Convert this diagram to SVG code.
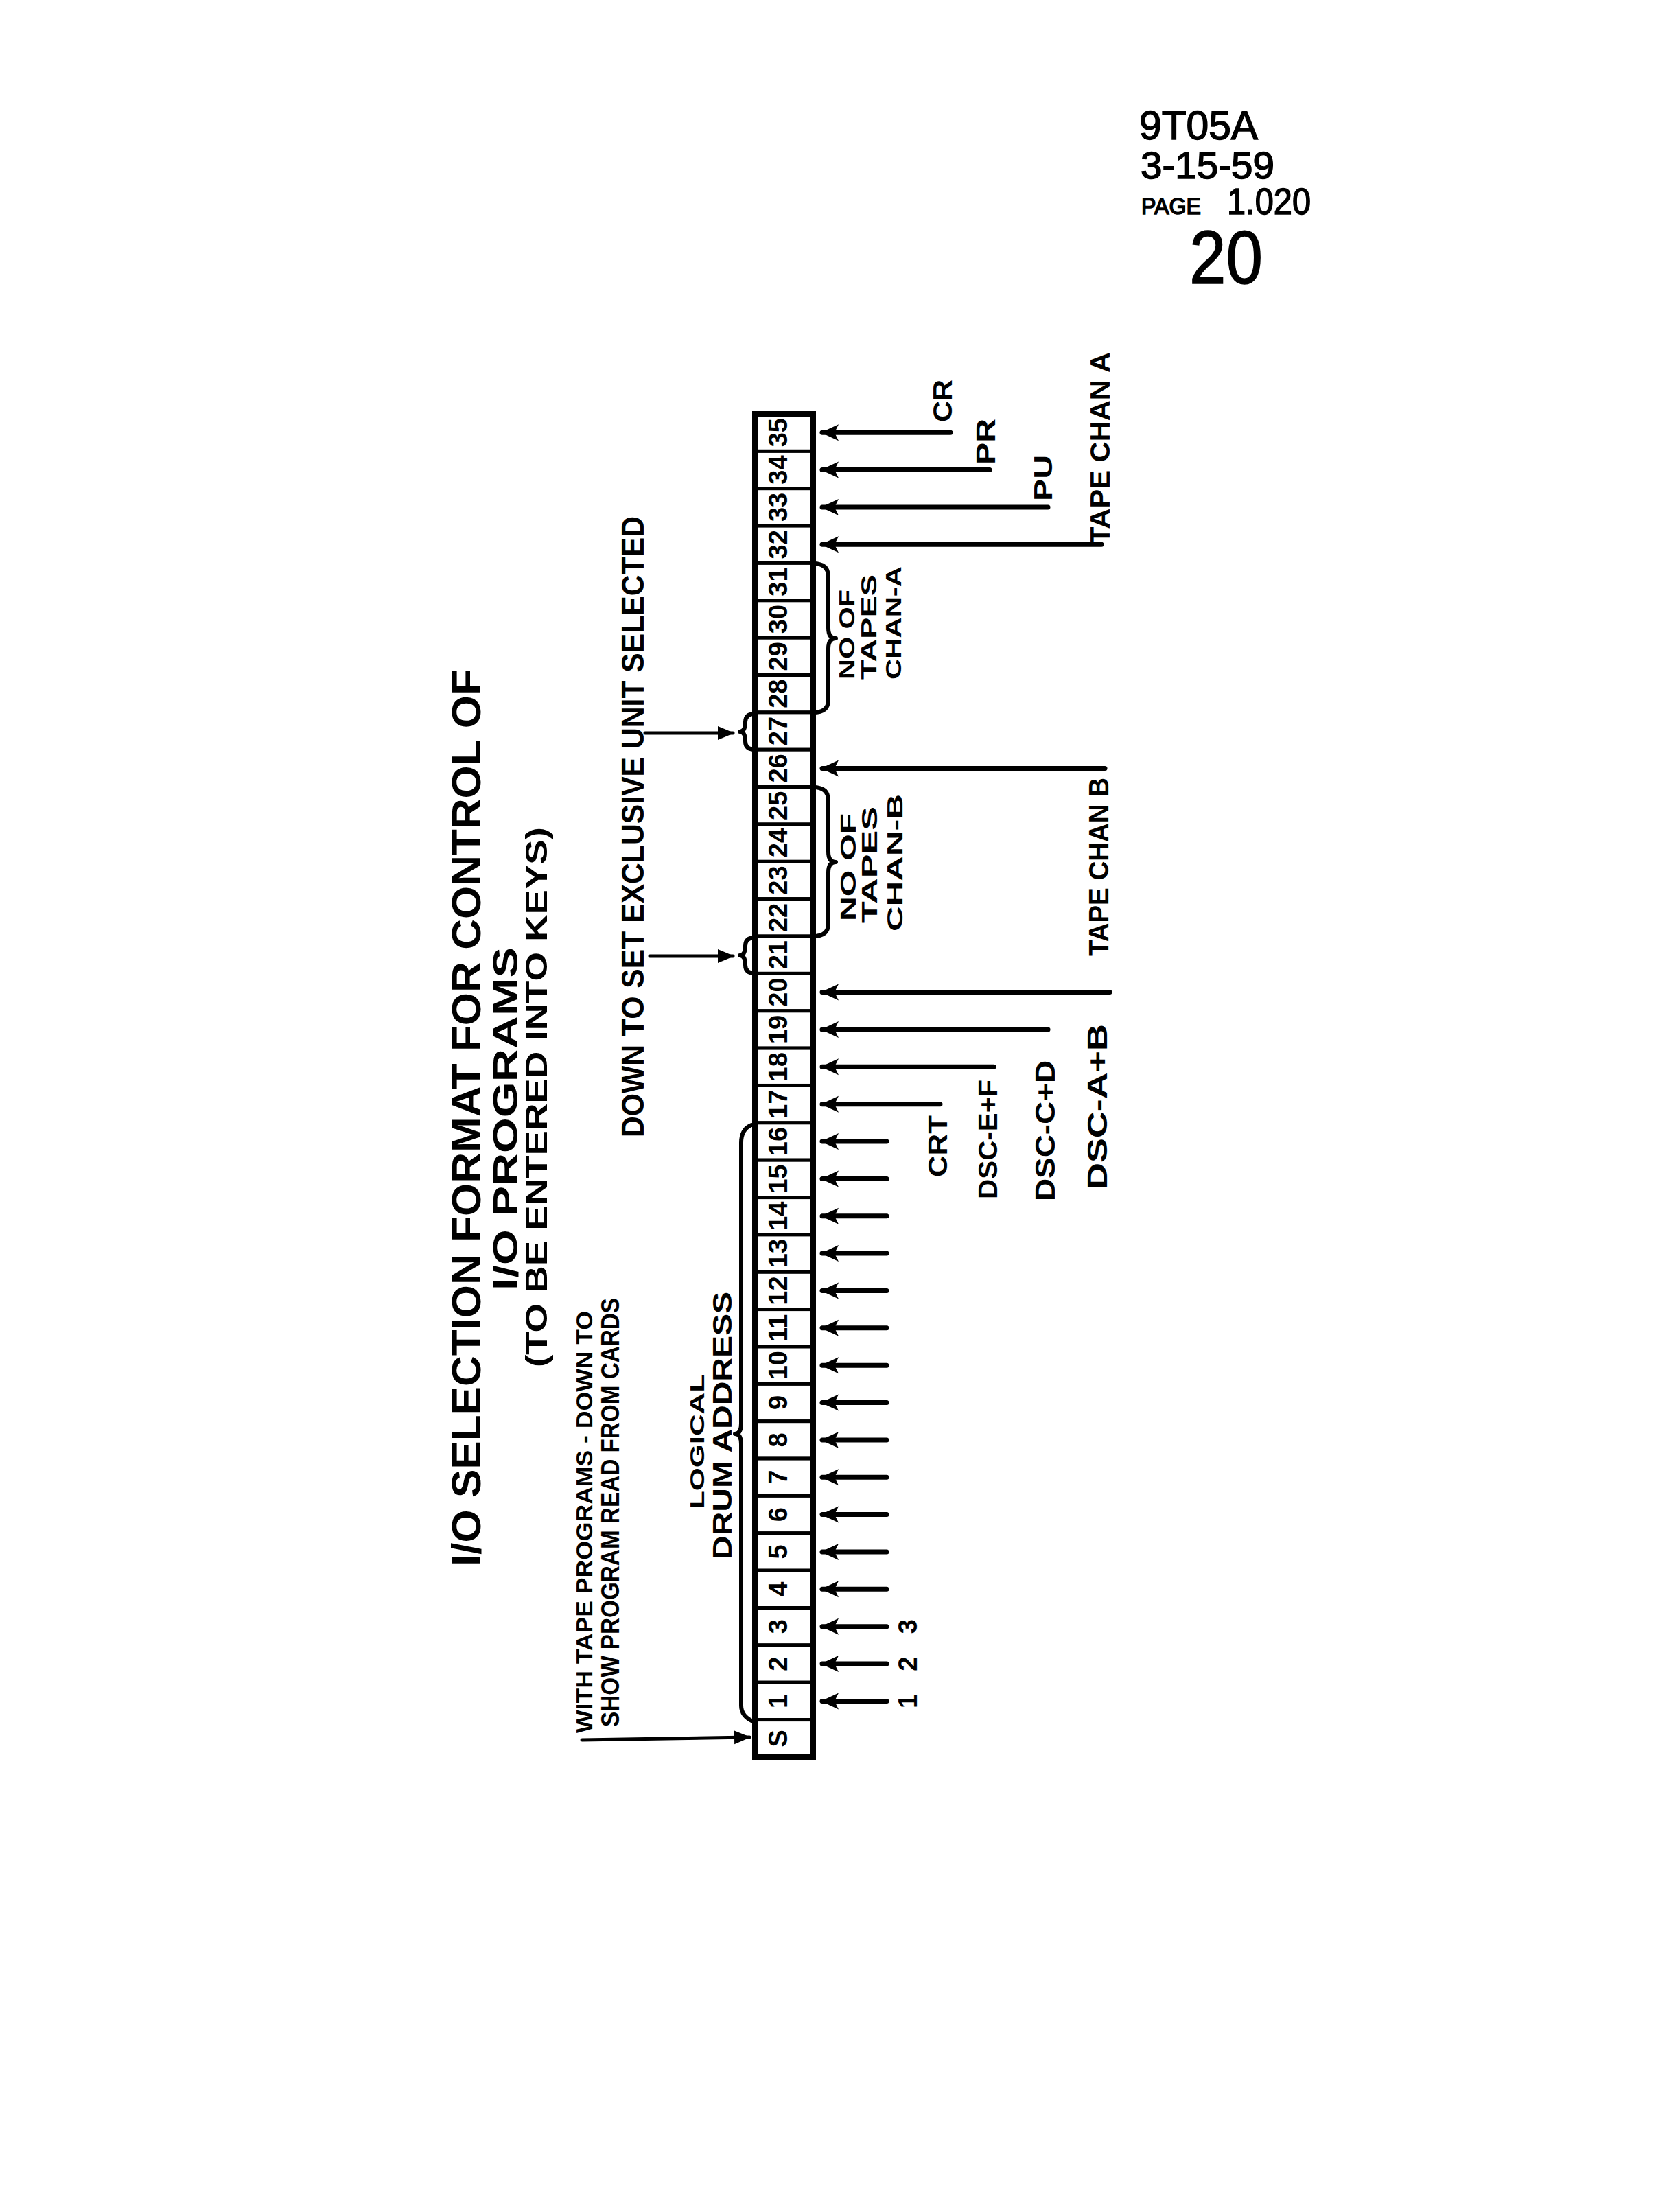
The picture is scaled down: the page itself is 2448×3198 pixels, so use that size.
<svg xmlns="http://www.w3.org/2000/svg" width="2448" height="3198" viewBox="0 0 2448 3198">
<defs>
<style>
.t{font-family:"Liberation Sans",Arial,sans-serif;font-weight:bold;fill:#000}
.h{font-family:"Liberation Sans",Arial,sans-serif;font-weight:normal;fill:#000;stroke:#000;stroke-width:1.5}
.num{font-size:38px;text-anchor:middle}
.cell{fill:#fff;stroke:#000;stroke-width:5}
.ln{fill:none;stroke:#000;stroke-width:7;stroke-linecap:round}
.ln2{fill:none;stroke:#000;stroke-width:5;stroke-linecap:round}
.br{fill:none;stroke:#000;stroke-width:6;stroke-linecap:round;stroke-linejoin:round}
</style>
<marker id="ah" markerUnits="userSpaceOnUse" markerWidth="26" markerHeight="26" viewBox="0 0 26 26" refX="24" refY="13" orient="auto">
<path d="M0,1 L26,13 L0,25 L6,13 z" fill="#000"/>
</marker>
<marker id="ah2" markerUnits="userSpaceOnUse" markerWidth="24" markerHeight="22" viewBox="0 0 24 22" refX="22" refY="11" orient="auto">
<path d="M0,1 L24,11 L0,21 z" fill="#000"/>
</marker>
</defs>
<rect width="2448" height="3198" fill="#fff"/>

<g id="header">
<text class="h" x="1660" y="203" font-size="60" textLength="173" lengthAdjust="spacingAndGlyphs">9T05A</text>
<text class="h" x="1662" y="260" font-size="55" textLength="195" lengthAdjust="spacingAndGlyphs">3-15-59</text>
<text class="h" x="1663" y="312"><tspan font-size="34" textLength="87" lengthAdjust="spacingAndGlyphs">PAGE</tspan><tspan x="1788" font-size="54" textLength="122" lengthAdjust="spacingAndGlyphs">1.020</tspan></text>
<text class="h" x="1733" y="413" font-size="110" textLength="107" lengthAdjust="spacingAndGlyphs">20</text>
</g>

<g id="title">
<text class="t" transform="translate(700,2282) rotate(-90)" font-size="60" textLength="1307" lengthAdjust="spacingAndGlyphs">I/O SELECTION FORMAT FOR CONTROL OF</text>
<text class="t" transform="translate(754,1880) rotate(-90)" font-size="50" textLength="500" lengthAdjust="spacingAndGlyphs">I/O PROGRAMS</text>
<text class="t" transform="translate(797,1992) rotate(-90)" font-size="44" textLength="787" lengthAdjust="spacingAndGlyphs">(TO BE ENTERED INTO KEYS)</text>
</g>

<g id="register">
<g id="cell-35"><rect class="cell" x="1100" y="603.0" width="85" height="54.36"/><text class="t num" transform="translate(1147,630.2) rotate(-90)">35</text></g>
<g id="cell-34"><rect class="cell" x="1100" y="657.4" width="85" height="54.36"/><text class="t num" transform="translate(1147,684.5) rotate(-90)">34</text></g>
<g id="cell-33"><rect class="cell" x="1100" y="711.7" width="85" height="54.36"/><text class="t num" transform="translate(1147,738.9) rotate(-90)">33</text></g>
<g id="cell-32"><rect class="cell" x="1100" y="766.1" width="85" height="54.36"/><text class="t num" transform="translate(1147,793.3) rotate(-90)">32</text></g>
<g id="cell-31"><rect class="cell" x="1100" y="820.4" width="85" height="54.36"/><text class="t num" transform="translate(1147,847.6) rotate(-90)">31</text></g>
<g id="cell-30"><rect class="cell" x="1100" y="874.8" width="85" height="54.36"/><text class="t num" transform="translate(1147,902.0) rotate(-90)">30</text></g>
<g id="cell-29"><rect class="cell" x="1100" y="929.2" width="85" height="54.36"/><text class="t num" transform="translate(1147,956.3) rotate(-90)">29</text></g>
<g id="cell-28"><rect class="cell" x="1100" y="983.5" width="85" height="54.36"/><text class="t num" transform="translate(1147,1010.7) rotate(-90)">28</text></g>
<g id="cell-27"><rect class="cell" x="1100" y="1037.9" width="85" height="54.36"/><text class="t num" transform="translate(1147,1065.1) rotate(-90)">27</text></g>
<g id="cell-26"><rect class="cell" x="1100" y="1092.2" width="85" height="54.36"/><text class="t num" transform="translate(1147,1119.4) rotate(-90)">26</text></g>
<g id="cell-25"><rect class="cell" x="1100" y="1146.6" width="85" height="54.36"/><text class="t num" transform="translate(1147,1173.8) rotate(-90)">25</text></g>
<g id="cell-24"><rect class="cell" x="1100" y="1201.0" width="85" height="54.36"/><text class="t num" transform="translate(1147,1228.1) rotate(-90)">24</text></g>
<g id="cell-23"><rect class="cell" x="1100" y="1255.3" width="85" height="54.36"/><text class="t num" transform="translate(1147,1282.5) rotate(-90)">23</text></g>
<g id="cell-22"><rect class="cell" x="1100" y="1309.7" width="85" height="54.36"/><text class="t num" transform="translate(1147,1336.9) rotate(-90)">22</text></g>
<g id="cell-21"><rect class="cell" x="1100" y="1364.0" width="85" height="54.36"/><text class="t num" transform="translate(1147,1391.2) rotate(-90)">21</text></g>
<g id="cell-20"><rect class="cell" x="1100" y="1418.4" width="85" height="54.36"/><text class="t num" transform="translate(1147,1445.6) rotate(-90)">20</text></g>
<g id="cell-19"><rect class="cell" x="1100" y="1472.8" width="85" height="54.36"/><text class="t num" transform="translate(1147,1499.9) rotate(-90)">19</text></g>
<g id="cell-18"><rect class="cell" x="1100" y="1527.1" width="85" height="54.36"/><text class="t num" transform="translate(1147,1554.3) rotate(-90)">18</text></g>
<g id="cell-17"><rect class="cell" x="1100" y="1581.5" width="85" height="54.36"/><text class="t num" transform="translate(1147,1608.7) rotate(-90)">17</text></g>
<g id="cell-16"><rect class="cell" x="1100" y="1635.8" width="85" height="54.36"/><text class="t num" transform="translate(1147,1663.0) rotate(-90)">16</text></g>
<g id="cell-15"><rect class="cell" x="1100" y="1690.2" width="85" height="54.36"/><text class="t num" transform="translate(1147,1717.4) rotate(-90)">15</text></g>
<g id="cell-14"><rect class="cell" x="1100" y="1744.6" width="85" height="54.36"/><text class="t num" transform="translate(1147,1771.7) rotate(-90)">14</text></g>
<g id="cell-13"><rect class="cell" x="1100" y="1798.9" width="85" height="54.36"/><text class="t num" transform="translate(1147,1826.1) rotate(-90)">13</text></g>
<g id="cell-12"><rect class="cell" x="1100" y="1853.3" width="85" height="54.36"/><text class="t num" transform="translate(1147,1880.5) rotate(-90)">12</text></g>
<g id="cell-11"><rect class="cell" x="1100" y="1907.6" width="85" height="54.36"/><text class="t num" transform="translate(1147,1934.8) rotate(-90)">11</text></g>
<g id="cell-10"><rect class="cell" x="1100" y="1962.0" width="85" height="54.36"/><text class="t num" transform="translate(1147,1989.2) rotate(-90)">10</text></g>
<g id="cell-9"><rect class="cell" x="1100" y="2016.4" width="85" height="54.36"/><text class="t num" transform="translate(1147,2043.5) rotate(-90)">9</text></g>
<g id="cell-8"><rect class="cell" x="1100" y="2070.7" width="85" height="54.36"/><text class="t num" transform="translate(1147,2097.9) rotate(-90)">8</text></g>
<g id="cell-7"><rect class="cell" x="1100" y="2125.1" width="85" height="54.36"/><text class="t num" transform="translate(1147,2152.3) rotate(-90)">7</text></g>
<g id="cell-6"><rect class="cell" x="1100" y="2179.4" width="85" height="54.36"/><text class="t num" transform="translate(1147,2206.6) rotate(-90)">6</text></g>
<g id="cell-5"><rect class="cell" x="1100" y="2233.8" width="85" height="54.36"/><text class="t num" transform="translate(1147,2261.0) rotate(-90)">5</text></g>
<g id="cell-4"><rect class="cell" x="1100" y="2288.2" width="85" height="54.36"/><text class="t num" transform="translate(1147,2315.3) rotate(-90)">4</text></g>
<g id="cell-3"><rect class="cell" x="1100" y="2342.5" width="85" height="54.36"/><text class="t num" transform="translate(1147,2369.7) rotate(-90)">3</text></g>
<g id="cell-2"><rect class="cell" x="1100" y="2396.9" width="85" height="54.36"/><text class="t num" transform="translate(1147,2424.1) rotate(-90)">2</text></g>
<g id="cell-1"><rect class="cell" x="1100" y="2451.2" width="85" height="54.36"/><text class="t num" transform="translate(1147,2478.4) rotate(-90)">1</text></g>
<g id="cell-S"><rect class="cell" x="1100" y="2505.6" width="85" height="54.36"/><text class="t num" transform="translate(1147,2532.8) rotate(-90)">S</text></g>
<rect x="1100" y="603" width="85" height="1957" fill="none" stroke="#000" stroke-width="8"/>
</g>

<g id="labels">
<text class="t" transform="translate(1387,615) rotate(-90)" font-size="38" textLength="62" lengthAdjust="spacingAndGlyphs">CR</text>
<text class="t" transform="translate(1450,677) rotate(-90)" font-size="38" textLength="67" lengthAdjust="spacingAndGlyphs">PR</text>
<text class="t" transform="translate(1533,730) rotate(-90)" font-size="36" textLength="67" lengthAdjust="spacingAndGlyphs">PU</text>
<text class="t" transform="translate(1617,793) rotate(-90)" font-size="40" textLength="280" lengthAdjust="spacingAndGlyphs">TAPE CHAN A</text>
<text class="t" transform="translate(1615,1393) rotate(-90)" font-size="40" textLength="260" lengthAdjust="spacingAndGlyphs">TAPE CHAN B</text>
<text class="t" transform="translate(1613,1733) rotate(-90)" font-size="40" textLength="241" lengthAdjust="spacingAndGlyphs">DSC-A+B</text>
<text class="t" transform="translate(1537,1750) rotate(-90)" font-size="40" textLength="205" lengthAdjust="spacingAndGlyphs">DSC-C+D</text>
<text class="t" transform="translate(1453,1747) rotate(-90)" font-size="38" textLength="174" lengthAdjust="spacingAndGlyphs">DSC-E+F</text>
<text class="t" transform="translate(1380,1715) rotate(-90)" font-size="38" textLength="90" lengthAdjust="spacingAndGlyphs">CRT</text>
<text class="t num" transform="translate(1336,2369.7) rotate(-90)" font-size="36">3</text>
<text class="t num" transform="translate(1336,2424.1) rotate(-90)" font-size="36">2</text>
<text class="t num" transform="translate(1336,2478.4) rotate(-90)" font-size="36">1</text>
</g>

<g id="tapes-a">
<text class="t" transform="translate(1245,990) rotate(-90)" font-size="32" textLength="131" lengthAdjust="spacingAndGlyphs">NO OF</text>
<text class="t" transform="translate(1277,990) rotate(-90)" font-size="32" textLength="153" lengthAdjust="spacingAndGlyphs">TAPES</text>
<text class="t" transform="translate(1313,990) rotate(-90)" font-size="32" textLength="165" lengthAdjust="spacingAndGlyphs">CHAN-A</text>
</g>
<g id="tapes-b">
<text class="t" transform="translate(1247,1342) rotate(-90)" font-size="32" textLength="157" lengthAdjust="spacingAndGlyphs">NO OF</text>
<text class="t" transform="translate(1278,1345) rotate(-90)" font-size="32" textLength="170" lengthAdjust="spacingAndGlyphs">TAPES</text>
<text class="t" transform="translate(1315,1357) rotate(-90)" font-size="32" textLength="200" lengthAdjust="spacingAndGlyphs">CHAN-B</text>
</g>
<g id="exclusive">
<text class="t" transform="translate(938,1657) rotate(-90)" font-size="46" textLength="905" lengthAdjust="spacingAndGlyphs">DOWN TO SET EXCLUSIVE UNIT SELECTED</text>
</g>
<g id="drum-address">
<text class="t" transform="translate(1026,2199) rotate(-90)" font-size="30" textLength="197" lengthAdjust="spacingAndGlyphs">LOGICAL</text>
<text class="t" transform="translate(1066,2272) rotate(-90)" font-size="38" textLength="390" lengthAdjust="spacingAndGlyphs">DRUM ADDRESS</text>
</g>
<g id="tape-programs">
<text class="t" transform="translate(863,2525) rotate(-90)" font-size="34" textLength="615" lengthAdjust="spacingAndGlyphs">WITH TAPE PROGRAMS - DOWN TO</text>
<text class="t" transform="translate(902,2516) rotate(-90)" font-size="36" textLength="625" lengthAdjust="spacingAndGlyphs">SHOW PROGRAM READ FROM CARDS</text>
</g>

<g id="connectors">
<line class="ln" x1="1385" y1="630.2" x2="1198" y2="630.2" marker-end="url(#ah)"/>
<line class="ln" x1="1442" y1="684.5" x2="1198" y2="684.5" marker-end="url(#ah)"/>
<line class="ln" x1="1527" y1="738.9" x2="1198" y2="738.9" marker-end="url(#ah)"/>
<line class="ln" x1="1605" y1="793.3" x2="1198" y2="793.3" marker-end="url(#ah)"/>
<line class="ln" x1="1610" y1="1119.4" x2="1198" y2="1119.4" marker-end="url(#ah)"/>
<line class="ln" x1="1617" y1="1445.6" x2="1198" y2="1445.6" marker-end="url(#ah)"/>
<line class="ln" x1="1527" y1="1499.9" x2="1198" y2="1499.9" marker-end="url(#ah)"/>
<line class="ln" x1="1448" y1="1554.3" x2="1198" y2="1554.3" marker-end="url(#ah)"/>
<line class="ln" x1="1370" y1="1608.7" x2="1198" y2="1608.7" marker-end="url(#ah)"/>
<line class="ln" x1="1292" y1="1663.0" x2="1198" y2="1663.0" marker-end="url(#ah)"/>
<line class="ln" x1="1292" y1="1717.4" x2="1198" y2="1717.4" marker-end="url(#ah)"/>
<line class="ln" x1="1292" y1="1771.7" x2="1198" y2="1771.7" marker-end="url(#ah)"/>
<line class="ln" x1="1292" y1="1826.1" x2="1198" y2="1826.1" marker-end="url(#ah)"/>
<line class="ln" x1="1292" y1="1880.5" x2="1198" y2="1880.5" marker-end="url(#ah)"/>
<line class="ln" x1="1292" y1="1934.8" x2="1198" y2="1934.8" marker-end="url(#ah)"/>
<line class="ln" x1="1292" y1="1989.2" x2="1198" y2="1989.2" marker-end="url(#ah)"/>
<line class="ln" x1="1292" y1="2043.5" x2="1198" y2="2043.5" marker-end="url(#ah)"/>
<line class="ln" x1="1292" y1="2097.9" x2="1198" y2="2097.9" marker-end="url(#ah)"/>
<line class="ln" x1="1292" y1="2152.3" x2="1198" y2="2152.3" marker-end="url(#ah)"/>
<line class="ln" x1="1292" y1="2206.6" x2="1198" y2="2206.6" marker-end="url(#ah)"/>
<line class="ln" x1="1292" y1="2261.0" x2="1198" y2="2261.0" marker-end="url(#ah)"/>
<line class="ln" x1="1292" y1="2315.3" x2="1198" y2="2315.3" marker-end="url(#ah)"/>
<line class="ln" x1="1292" y1="2369.7" x2="1198" y2="2369.7" marker-end="url(#ah)"/>
<line class="ln" x1="1292" y1="2424.1" x2="1198" y2="2424.1" marker-end="url(#ah)"/>
<line class="ln" x1="1292" y1="2478.4" x2="1198" y2="2478.4" marker-end="url(#ah)"/>
<line class="ln2" x1="940" y1="1068" x2="1068" y2="1068" marker-end="url(#ah2)"/>
<line class="ln2" x1="947" y1="1393" x2="1068" y2="1393" marker-end="url(#ah2)"/>
<line class="ln2" x1="848" y1="2535" x2="1092" y2="2531" marker-end="url(#ah2)"/>
<path class="br" d="M1185,821 Q1207,821 1207,840 L1207,915 Q1207,930 1218,930 Q1207,930 1207,945 L1207,1020 Q1207,1038 1185,1038"/>
<path class="br" d="M1185,1147 Q1207,1147 1207,1166 L1207,1241 Q1207,1256 1218,1256 Q1207,1256 1207,1271 L1207,1346 Q1207,1364 1185,1364"/>
<path class="br" d="M1100,1040 Q1086,1040 1086,1052 Q1086,1066 1078,1066 Q1086,1066 1086,1080 Q1086,1092 1100,1092"/>
<path class="br" d="M1100,1366 Q1086,1366 1086,1378 Q1086,1392 1078,1392 Q1086,1392 1086,1406 Q1086,1418 1100,1418"/>
<path class="br" d="M1095,1639 Q1080,1645 1080,1665 L1080,2074 Q1080,2089 1071,2089 Q1080,2089 1080,2104 L1080,2485 Q1080,2500 1097,2508"/>
</g>
</svg>
